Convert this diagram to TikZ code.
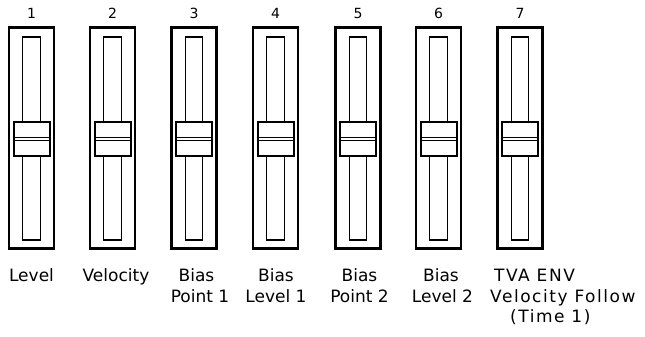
\documentclass[tikz,border=0pt]{standalone}
\usepackage{fontspec}
\setmainfont{DejaVu Sans}
\newfontfamily\widefont[LetterSpace=9]{DejaVu Sans}
\begin{document}
\begin{tikzpicture}[x=1pt,y=-1pt,
  outerbox/.style={draw=black,line width=2.4pt},
  slotbox/.style={draw=black,line width=1.3pt},
  knobbox/.style={draw=black,fill=white,line width=2pt},
  knobline/.style={draw=black,line width=1pt},
  numlabel/.style={inner sep=0pt,anchor=base,font=\fontsize{14}{16}\selectfont},
  namelabel/.style={inner sep=0pt,anchor=base,font=\fontsize{17}{20}\selectfont},
  nameleft/.style={inner sep=0pt,anchor=base west,font=\widefont\fontsize{17}{20}\selectfont}]
\useasboundingbox (0,0) rectangle (645,337);
\foreach \n/\c in {1/31.5,2/112.5,3/194,4/275.5,5/358,6/438.5,7/520}{
  \draw[outerbox] (\c-22.5,27.5) rectangle (\c+22.5,248.5);
  \draw[slotbox] (\c-8.8,37) rectangle (\c+8.8,240);
  \draw[knobbox] (\c-18,121.5) rectangle (\c+18,155.5);
  \draw[knobline] (\c-19,137.6) -- (\c+19,137.6);
  \draw[knobline] (\c-19,140.4) -- (\c+19,140.4);
  \node[numlabel] (num\n) at (\c,19) {\n};
}
\node[namelabel] (l1) at (31.5,281.5) {Level};
\node[namelabel] (l2) at (116,281.5) {Velocity};
\node[namelabel] (l3a) at (196.5,281.5) {Bias};
\node[namelabel] (l3b) at (200,302) {Point 1};
\node[namelabel] (l4a) at (276,281.5) {Bias};
\node[namelabel] (l4b) at (276,302) {Level 1};
\node[namelabel] (l5a) at (359.5,281.5) {Bias};
\node[namelabel] (l5b) at (359.5,302) {Point 2};
\node[namelabel] (l6a) at (441,281.5) {Bias};
\node[namelabel] (l6b) at (442.5,302) {Level 2};
\node[nameleft] (l7a) at (494,281.5) {TVA ENV};
\node[nameleft] (l7b) at (490,302) {Velocity Follow};
\node[nameleft] (l7c) at (510,322) {(Time 1)};
\end{tikzpicture}
\end{document}
